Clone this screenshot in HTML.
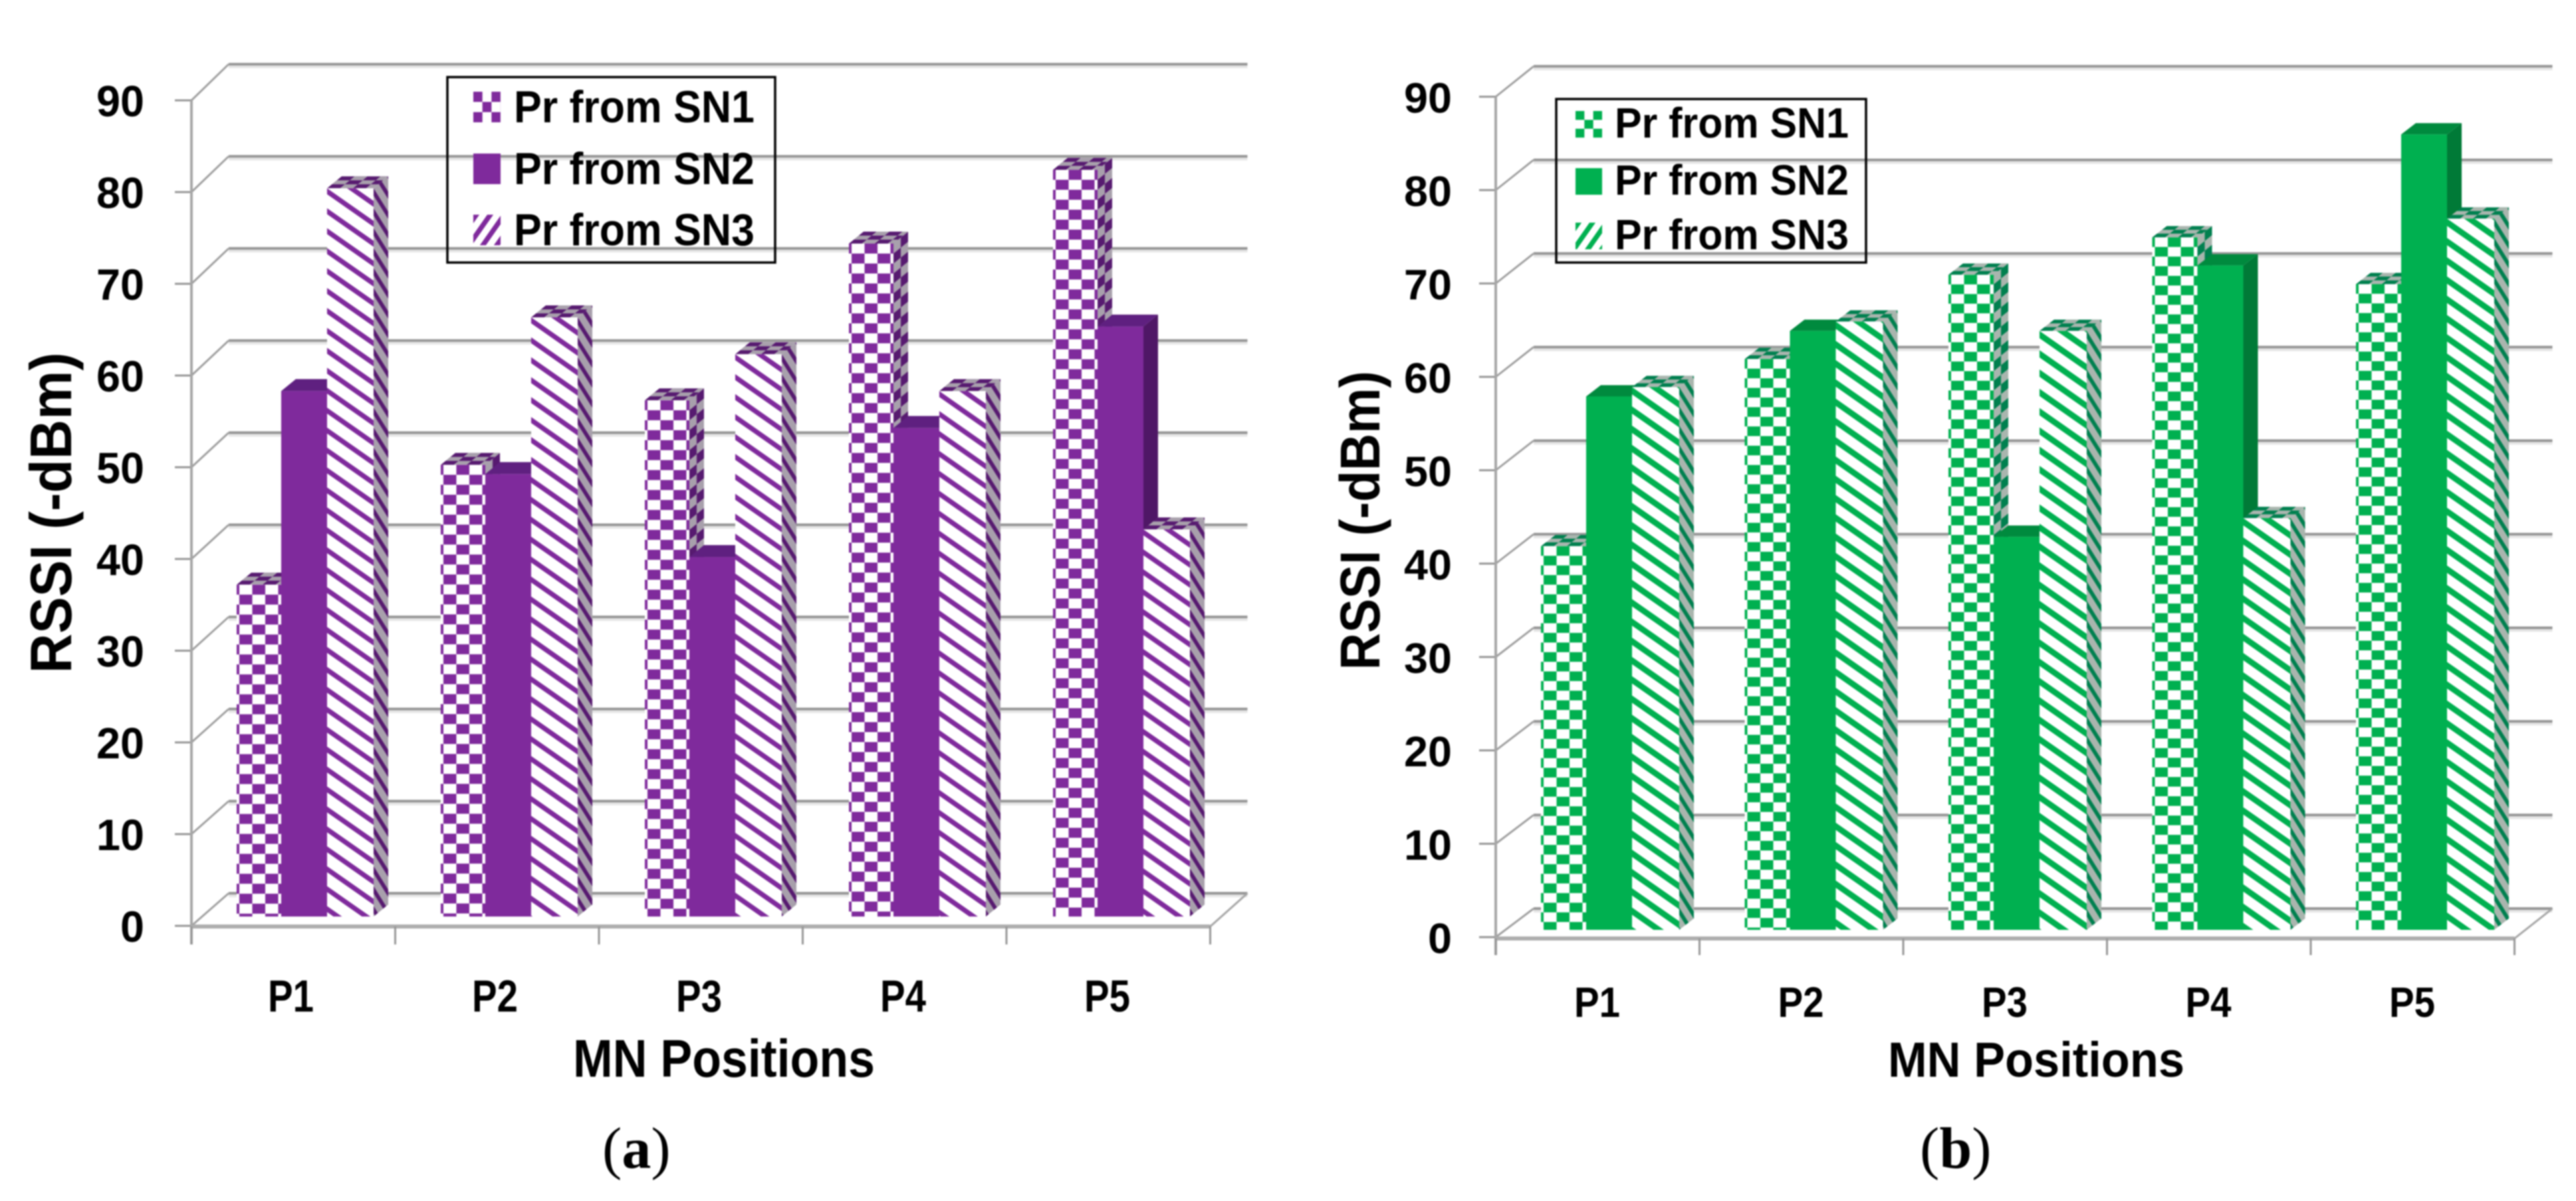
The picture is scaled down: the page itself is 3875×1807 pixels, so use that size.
<!DOCTYPE html>
<html lang="en">
<head>
<meta charset="utf-8">
<title>RSSI versus MN positions</title>
<style>
html,body{margin:0;padding:0;background:#fff;width:3875px;height:1807px;overflow:hidden}
svg{display:block;filter:blur(1.1px)}
text{font-family:"Liberation Sans",sans-serif;font-weight:700;fill:#000}
text.caption{font-family:"Liberation Serif",serif;font-weight:400}
</style>
</head>
<body>
<svg id="figure" xmlns="http://www.w3.org/2000/svg" width="3875" height="1807" viewBox="0 0 3875 1807"></svg>
<script>
// ---- chart data ----
const categories = ['P1', 'P2', 'P3', 'P4', 'P5'];
const yTicks = [0, 10, 20, 30, 40, 50, 60, 70, 80, 90];
const seriesNames = ['Pr from SN1', 'Pr from SN2', 'Pr from SN3'];
const panelAsn1 = [36, 49, 56, 73, 81];
const panelAsn2 = [57, 48, 39, 53, 64];
const panelAsn3 = [79, 65, 61, 57, 42];
const panelBsn1 = [41, 61, 70, 74, 69];
const panelBsn2 = [57, 64, 42, 71, 85];
const panelBsn3 = [58, 65, 64, 44, 76];
const yAxisTitle = 'RSSI (-dBm)';
const xAxisTitle = 'MN Positions';

const NS = 'http://www.w3.org/2000/svg';
const svg = document.getElementById('figure');
const defs = document.createElementNS(NS, 'defs');
svg.appendChild(defs);
let patternCount = 0;

function make(tag, attrs, parent) {
  const e = document.createElementNS(NS, tag);
  for (const k in attrs) e.setAttribute(k, attrs[k]);
  parent.appendChild(e);
  return e;
}
function newPattern(w, h, transform) {
  const id = 'pat' + (++patternCount);
  const p = make('pattern', {id: id, width: w, height: h, patternUnits: 'userSpaceOnUse', patternTransform: transform}, defs);
  return {id: id, node: p};
}
function checker(cw, ch, c1, c2, transform) {
  const p = newPattern(2 * cw, 2 * ch, transform);
  make('rect', {x: 0, y: 0, width: 2 * cw, height: 2 * ch, fill: c1}, p.node);
  make('rect', {x: cw, y: 0, width: cw, height: ch, fill: c2}, p.node);
  make('rect', {x: 0, y: ch, width: cw, height: ch, fill: c2}, p.node);
  return 'url(#' + p.id + ')';
}
function bands(period, thick, c1, c2, transform) {
  const p = newPattern(10, period, transform);
  make('rect', {x: 0, y: 0, width: 10, height: period, fill: c1}, p.node);
  make('rect', {x: 0, y: 0, width: 10, height: thick, fill: c2}, p.node);
  return 'url(#' + p.id + ')';
}

function drawPanel(cfg) {
  const g = make('g', {}, svg);
  
  

  const yFront = v => cfg.front0 - cfg.frontK * v;
  const yBack = v => cfg.back0 - cfg.backK * v;
  const yBar = v => cfg.barBase - cfg.barK * v;
  const xGroup = i => cfg.groupX + i * cfg.groupStep;
  const xTick = i => cfg.axisX + i * cfg.tickStep;
  const axisEnd = xTick(categories.length);
  const backDx = cfg.backX - cfg.axisX;
  const backEnd = axisEnd + backDx;

  // gridlines and wall edges
  yTicks.forEach(v => {
    const shadow = make('line', {x1: cfg.backX, x2: backEnd, y1: yBack(v) + 4, y2: yBack(v) + 4, stroke: '#e6e6e6', 'stroke-width': 4}, g);
    
    
    const grid = make('line', {x1: cfg.backX, x2: backEnd, y1: yBack(v), y2: yBack(v), stroke: '#969696', 'stroke-width': 4}, g);
    
    
    const edge = make('line', {x1: cfg.axisX, x2: cfg.backX, y1: yFront(v), y2: yBack(v), stroke: '#a0a0a0', 'stroke-width': 3}, g);
    
    
    const tick = make('line', {x1: cfg.axisX - 25, x2: cfg.axisX, y1: yFront(v), y2: yFront(v), stroke: '#969696', 'stroke-width': 3}, g);
    
    
    const s = String(v);
    const len = 36 * s.length;
    const label = make('text', {x: cfg.tickRight - len, y: yFront(v) + 24, 'font-size': cfg.tickFont, textLength: len, lengthAdjust: 'spacingAndGlyphs'}, g);
    label.textContent = s;
    
    
  });

  // axes
  const yAxis = make('line', {x1: cfg.axisX, x2: cfg.axisX, y1: yFront(90), y2: cfg.axisY + cfg.tickDown, stroke: '#a6a6a6', 'stroke-width': 4}, g);
  
  
  const floorEdge = make('line', {x1: axisEnd, x2: backEnd, y1: cfg.axisY, y2: yBack(0), stroke: '#a6a6a6', 'stroke-width': 3}, g);
  
  
  const xAxis = make('line', {x1: cfg.axisX, x2: axisEnd, y1: cfg.axisY, y2: cfg.axisY, stroke: '#adadad', 'stroke-width': 6}, g);
  
  
  for (let i = 0; i <= categories.length; i++) {
    const t = make('line', {x1: xTick(i), x2: xTick(i), y1: cfg.axisY, y2: cfg.axisY + cfg.tickDown, stroke: '#969696', 'stroke-width': 3}, g);
    
    
  }

  // legend box (gridlines show through, as in the source)
  const legend = make('g', {}, g);
  
  
  const box = make('rect', {x: cfg.legX, y: cfg.legY, width: cfg.legW, height: cfg.legH, fill: 'none', stroke: '#000', 'stroke-width': 3.5}, legend);
  
  
  seriesNames.forEach((nm, s) => {
    let fill = cfg.color;
    const sy = cfg.legBase[s] - cfg.swatchH;
    if (s === 0) fill = checker(cfg.swatchW / 3, cfg.swatchH / 3, cfg.color, '#fff', 'translate(' + cfg.swatchX + ' ' + sy + ')');
    if (s === 2) fill = bands(30, 13, '#fff', cfg.color, 'translate(' + cfg.swatchX + ' ' + sy + ') skewY(-55)');
    const sw = make('rect', {x: cfg.swatchX, y: sy, width: cfg.swatchW, height: cfg.swatchH, fill: fill}, legend);
    
    
    const lt = make('text', {x: cfg.legTextX, y: cfg.legBase[s], 'font-size': cfg.legFont, textLength: cfg.legTextW, lengthAdjust: 'spacingAndGlyphs'}, legend);
    lt.textContent = nm;
    
    
  });

  // bars
  categories.forEach((cat, i) => {
    cfg.series.forEach((vals, s) => {
      const v = vals[i];
      const x = xGroup(i) + cfg.barOffset[s];
      const w = cfg.barWidth[s];
      const top = yBar(v);
      const base = cfg.barBase;
      const dx = cfg.depthX, dy = cfg.depthY;
      let frontFill = cfg.color, topFill = cfg.topDark, sideFill = cfg.sideDark;
      if (s === 0) {
        frontFill = checker(cfg.cellW, cfg.cellH, '#fff', cfg.color, 'translate(' + (x + 4) + ' ' + top + ')');
        topFill = checker(cfg.cellW, dy / 3, cfg.faceGray, cfg.stripeDark, 'translate(' + x + ' ' + top + ') skewX(-50.7)');
        sideFill = checker(dx / 2, cfg.cellH, cfg.faceGray, cfg.stripeDark, 'translate(' + (x + w) + ' ' + top + ') skewY(-39)');
      }
      if (s === 2) {
        frontFill = bands(cfg.stripePeriod, cfg.stripeThick, '#fff', cfg.color, 'translate(' + x + ' ' + top + ') skewY(35)');
        topFill = checker(cfg.cellW, dy / 3, cfg.faceGray, cfg.stripeDark, 'translate(' + x + ' ' + top + ') skewX(-50.7)');
        sideFill = bands(cfg.stripePeriod, 11, cfg.faceGray, cfg.stripeDark, 'translate(' + (x + w) + ' ' + top + ') skewY(58)');
      }
      const bar = make('g', {}, g);
      
      
      const topFace = make('polygon', {points: [x, top, x + w, top, x + w + dx, top - dy, x + dx, top - dy].join(' '), fill: topFill}, bar);
      
      
      const sideFace = make('polygon', {points: [x + w, top, x + w + dx, top - dy, x + w + dx, base - dy, x + w, base].join(' '), fill: sideFill}, bar);
      
      
      const frontFace = make('rect', {x: x, y: top, width: w, height: base - top, fill: frontFill}, bar);
      
      
    });
    const cl = make('text', {x: cfg.catX + i * cfg.catStep, y: cfg.catBase, 'font-size': cfg.catFont, textLength: 69, lengthAdjust: 'spacingAndGlyphs'}, g);
    cl.textContent = cat;
    
    
  });

  // titles and caption
  const xt = make('text', {x: cfg.xTitleX, y: cfg.xTitleBase, 'font-size': cfg.xTitleFont, textLength: cfg.xTitleW, lengthAdjust: 'spacingAndGlyphs'}, g);
  xt.textContent = xAxisTitle;
  
  
  const yt = make('text', {x: 0, y: 0, transform: 'translate(' + cfg.yTitleX + ' ' + cfg.yTitleBottom + ') rotate(-90)', 'font-size': cfg.yTitleFont, textLength: cfg.yTitleLen, lengthAdjust: 'spacingAndGlyphs'}, g);
  yt.textContent = yAxisTitle;
  
  
  const cap = make('text', {x: cfg.capX, y: 1757, 'font-size': 88, class: 'caption'}, g);
  
  
  make('tspan', {}, cap).textContent = '(';
  make('tspan', {'font-weight': 700}, cap).textContent = cfg.capLetter;
  make('tspan', {}, cap).textContent = ')';
}

drawPanel({
  name: 'chart-panel-a', series: [panelAsn1, panelAsn2, panelAsn3],
  color: '#7f2a9c', topDark: '#5f2080', sideDark: '#4f1766', stripeDark: '#571a70', faceGray: '#a8a0ac',
  axisX: 288, backX: 344, tickStep: 306.5, axisY: 1394, tickDown: 27,
  front0: 1393, frontK: 13.8, back0: 1344, backK: 13.86, barBase: 1379, barK: 13.87,
  groupX: 356, groupStep: 307, barOffset: [0, 67, 136], barWidth: [67, 69, 70], depthX: 22, depthY: 18,
  cellW: 19.5, cellH: 15, stripePeriod: 30, stripeThick: 9,
  tickRight: 217, tickFont: 66,
  legX: 673, legY: 116, legW: 493, legH: 279, swatchX: 712, swatchW: 41, swatchH: 46,
  legBase: [184, 277, 369], legTextX: 773, legTextW: 362, legFont: 68,
  catX: 403, catStep: 307, catBase: 1522, catFont: 68,
  xTitleX: 862, xTitleBase: 1620, xTitleFont: 80, xTitleW: 454,
  yTitleX: 107, yTitleBottom: 1013, yTitleLen: 483, yTitleFont: 88,
  capX: 906, capLetter: 'a'
});
drawPanel({
  name: 'chart-panel-b', series: [panelBsn1, panelBsn2, panelBsn3],
  color: '#00b050', topDark: '#008a3e', sideDark: '#007a37', stripeDark: '#00804f', faceGray: '#a9b5ae',
  axisX: 2250, backX: 2307, tickStep: 306.5, axisY: 1412, tickDown: 25,
  front0: 1410, frontK: 14.05, back0: 1367, backK: 14.08, barBase: 1399, barK: 14.08,
  groupX: 2318, groupStep: 306.5, barOffset: [0, 68, 137], barWidth: [68, 69, 71], depthX: 22, depthY: 17,
  cellW: 19.5, cellH: 14.5, stripePeriod: 29, stripeThick: 11,
  tickRight: 2184, tickFont: 64,
  legX: 2341, legY: 149, legW: 466, legH: 246, swatchX: 2370, swatchW: 40, swatchH: 40,
  legBase: [207, 293, 375], legTextX: 2429, legTextW: 352, legFont: 64,
  catX: 2368, catStep: 306.5, catBase: 1530, catFont: 64,
  xTitleX: 2840, xTitleBase: 1620, xTitleFont: 74, xTitleW: 446,
  yTitleX: 2075, yTitleBottom: 1008, yTitleLen: 450, yTitleFont: 84,
  capX: 2888, capLetter: 'b'
});
</script>
</body>
</html>
